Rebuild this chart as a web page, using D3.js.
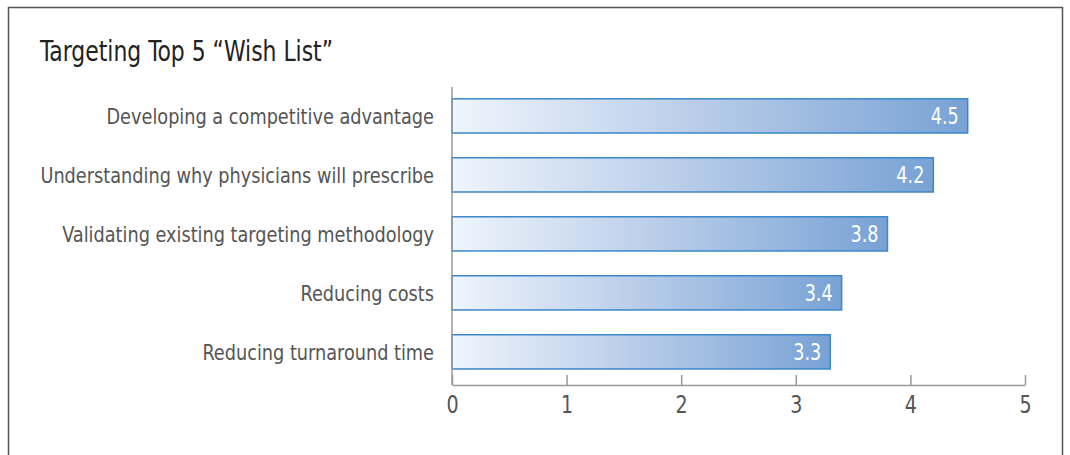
<!DOCTYPE html>
<html>
<head>
<meta charset="utf-8">
<script src="https://cdn.jsdelivr.net/npm/d3@7"></script>
<style>
  body { margin: 0; background: #fff; }
  svg { display: block; }
  text { font-family: "Liberation Sans Narrow", "DejaVu Sans Condensed", "Roboto Condensed", sans-serif; }
</style>
</head>
<body>
<div id="chart"></div>
<script>
var categories = [
  "Developing a competitive advantage",
  "Understanding why physicians will prescribe",
  "Validating existing targeting methodology",
  "Reducing costs",
  "Reducing turnaround time"
];
var values = [4.5, 4.2, 3.8, 3.4, 3.3];
var tickValues = [0, 1, 2, 3, 4, 5];
var chartTitle = "Targeting Top 5 \u201cWish List\u201d";

var chart_width = 1070;
var chart_height = 455;
var plot_left = 452, plot_right = 1025, plot_top = 87, plot_bottom = 385;

// narrow the glyphs a little (reference uses a condensed face)
function squeeze(x, y, sx) {
  return "translate(" + x + "," + y + ") scale(" + sx + ",1)";
}

var svg = d3.select("#chart")
  .append("svg")
  .attr("width", chart_width)
  .attr("height", chart_height);

// gradient for the bars, one per bar box
var defs = svg.append("defs");
var grad = defs.append("linearGradient")
  .attr("id", "barGrad")
  .attr("x1", 0).attr("x2", 1)
  .attr("y1", 0).attr("y2", 0);
grad.append("stop").attr("offset", "0%").attr("stop-color", "#eef5fc");
grad.append("stop").attr("offset", "45%").attr("stop-color", "#bccfea");
grad.append("stop").attr("offset", "100%").attr("stop-color", "#78a2d5");

// frame
svg.append("path")
  .attr("d", "M8.5," + (chart_height + 2) + "V7.5H1062.5V" + (chart_height + 2))
  .attr("fill", "none")
  .attr("stroke", "#555")
  .attr("stroke-width", 1.5);

svg.append("text")
  .attr("transform", squeeze(40, 61, 0.87))
  .attr("font-size", 28)
  .attr("fill", "#222")
  .text(chartTitle);

var x_scale = d3.scaleLinear().domain([0, 5]).range([plot_left, plot_right]);
var y_scale = d3.scaleBand()
  .domain(categories)
  .range([plot_top, plot_top + 58.75 * 5])
  .paddingInner(0.42)
  .paddingOuter(0.2);

// bars
svg.selectAll("rect.bar")
  .data(values)
  .enter()
  .append("rect")
  .attr("class", "bar")
  .attr("x", x_scale(0))
  .attr("y", function(d, i) { return y_scale(categories[i]); })
  .attr("width", function(d) { return x_scale(d) - x_scale(0); })
  .attr("height", y_scale.bandwidth())
  .attr("fill", "url(#barGrad)")
  .attr("stroke", "#3b88c9")
  .attr("stroke-width", 1.5);

// value labels
svg.selectAll("text.val")
  .data(values)
  .enter()
  .append("text")
  .attr("class", "val")
  .attr("transform", function(d, i) {
    return squeeze(x_scale(d) - 9, y_scale(categories[i]) + y_scale.bandwidth() / 2, 0.85);
  })
  .attr("dy", "0.36em")
  .attr("text-anchor", "end")
  .attr("font-size", 23)
  .attr("fill", "#fff")
  .text(function(d) { return d.toFixed(1); });

// category labels
svg.selectAll("text.cat")
  .data(categories)
  .enter()
  .append("text")
  .attr("class", "cat")
  .attr("transform", function(d) {
    return squeeze(434, y_scale(d) + y_scale.bandwidth() / 2, 0.895);
  })
  .attr("dy", "0.36em")
  .attr("text-anchor", "end")
  .attr("font-size", 22)
  .attr("fill", "#555")
  .text(function(d) { return d; });

// y axis line
svg.append("line")
  .attr("x1", plot_left).attr("x2", plot_left)
  .attr("y1", plot_top).attr("y2", plot_bottom)
  .attr("stroke", "#999")
  .attr("stroke-width", 1.5);

// x axis
var x_axis = d3.axisBottom(x_scale)
  .tickValues(tickValues)
  .tickSize(-10)
  .tickSizeOuter(0)
  .tickPadding(10)
  .tickFormat(d3.format("d"));
var gx = svg.append("g")
  .attr("transform", "translate(0," + plot_bottom + ")")
  .call(x_axis);
gx.select(".domain").attr("stroke", "#999").attr("stroke-width", 1.5);
gx.selectAll(".tick line").attr("stroke", "#999").attr("stroke-width", 1.5);
gx.selectAll(".tick text")
  .attr("font-size", 25)
  .attr("fill", "#555")
  .attr("transform", "scale(0.85,1)")
  .attr("font-family", "\"Liberation Sans Narrow\", \"DejaVu Sans Condensed\", sans-serif");
</script>
</body>
</html>
